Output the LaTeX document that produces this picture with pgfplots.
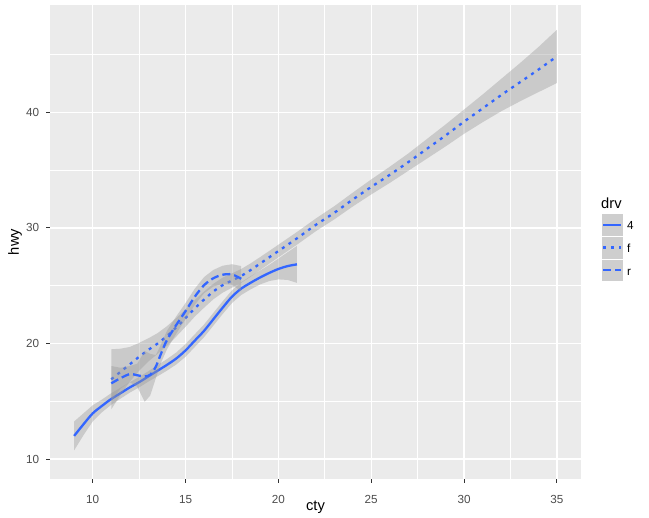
\documentclass[border=0pt]{standalone}
\usepackage{pgfplots}
\pgfplotsset{compat=1.18}
\usepackage{pgfplotstable}
\usepackage{fontspec}
\setmainfont{Liberation Sans}

\definecolor{panel}{HTML}{EBEBEB}
\definecolor{smoothblue}{HTML}{3366FF}
\definecolor{ribbon}{HTML}{999999}
\definecolor{keyfill}{HTML}{F2F2F2}
\definecolor{tickgrey}{HTML}{333333}
\definecolor{labgrey}{HTML}{4D4D4D}

\tikzset{
  lt4/.style={solid},
  ltf/.style={dash pattern=on 3bp off 5bp},
  ltr/.style={dash pattern=on 8bp off 4bp},
}

% loess fits of hwy ~ cty by drv
\pgfplotstableread{
x    y
9    12.0
9.5  13.0
10   13.95
10.5 14.6
11   15.2
11.5 15.7
12   16.2
12.5 16.65
13   17.15
13.5 17.65
14   18.15
14.5 18.7
15   19.4
15.5 20.25
16   21.1
16.5 22.1
17   23.1
17.5 24.05
18   24.75
18.5 25.25
19   25.7
19.5 26.1
20   26.45
20.5 26.7
21   26.85
}\tfour

\pgfplotstableread{
x    y
11   16.9
11.5 17.55
12   18.2
12.5 18.85
13   19.45
13.5 20.0
14   20.65
14.5 21.4
15   22.2
15.5 23.05
16   23.8
16.5 24.5
17   25.05
17.5 25.45
18   25.85
18.5 26.35
19   26.9
19.5 27.45
20   28.0
21   29.1
22   30.25
23   31.3
24   32.45
25   33.55
26   34.6
27   35.7
28   36.85
29   38.0
30   39.2
31   40.35
32   41.5
33   42.6
34   43.7
35   44.85
}\tfront

\pgfplotstableread{
x    y
11   16.55
11.5 17.0
12   17.35
12.4 17.25
12.8 17.15
13.1 17.3
13.4 18.0
13.7 19.2
14   20.3
14.5 21.6
15   22.8
15.5 24.05
16   25.05
16.5 25.65
17   25.95
17.5 25.98
18   25.6
}\trear

% confidence bands: upper edge forward, lower edge back
\pgfplotstableread{
x    y
9    13.25
9.5  13.95
10   14.65
10.5 15.15
11   15.7
11.5 16.17
12   16.65
12.5 17.1
13   17.6
13.5 18.13
14   18.65
14.5 19.22
15   19.95
15.5 20.8
16   21.65
16.5 22.65
17   23.65
17.5 24.6
18   25.3
18.5 25.82
19   26.3
19.5 26.8
20   27.35
20.5 27.9
21   28.45
21   25.25
20.5 25.5
20   25.55
19.5 25.4
19   25.1
18.5 24.68
18   24.2
17.5 23.5
17   22.55
16.5 21.55
16   20.55
15.5 19.7
15   18.85
14.5 18.18
14   17.65
13.5 17.17
13   16.7
12.5 16.2
12   15.75
11.5 15.23
11   14.7
10.5 14.05
10   13.25
9.5  12.05
9    10.75
}\bandfour

\pgfplotstableread{
x    y
11   19.5
11.5 19.55
12   19.7
12.5 20.05
13   20.45
13.5 20.9
14   21.5
14.5 22.2
15   22.95
15.5 23.77
16   24.5
16.5 25.17
17   25.7
17.5 26.07
18   26.45
18.5 26.93
19   27.46
19.5 28.0
20   28.55
21   29.65
22   30.8
23   31.87
24   33.05
25   34.2
26   35.3
27   36.45
28   37.7
29   38.95
30   40.25
31   41.55
32   42.9
33   44.25
34   45.65
35   47.15
35   42.55
34   41.75
33   40.95
32   40.1
31   39.15
30   38.15
29   37.05
28   36.0
27   34.95
26   33.9
25   32.9
24   31.85
23   30.73
22   29.7
21   28.55
20   27.45
19.5 26.9
19   26.34
18.5 25.77
18   25.25
17.5 24.83
17   24.4
16.5 23.83
16   23.1
15.5 22.33
15   21.45
14.5 20.6
14   19.8
13.5 19.1
13   18.45
12.5 17.65
12   16.7
11.5 15.55
11   14.3
}\bandfront

\pgfplotstableread{
x    y
11   18.05
11.5 17.9
12   18.05
12.4 18.25
12.8 19.35
13.1 19.1
13.4 19.0
13.7 20.0
14   21.1
14.5 22.35
15   23.5
15.5 24.75
16   25.75
16.5 26.37
17   26.73
17.5 26.86
18   26.7
18   24.5
17.5 25.1
17   25.17
16.5 24.93
16   24.35
15.5 23.35
15   22.1
14.5 20.85
14   19.5
13.7 18.4
13.4 17.0
13.1 15.5
12.8 14.95
12.4 16.25
12   16.65
11.5 16.1
11   15.05
}\bandrear

\begin{document}
\begin{tikzpicture}
\path[use as bounding box] (-50bp,-39bp) rectangle (599bp,479bp);
\begin{axis}[
  scale only axis, width=531bp, height=474bp,
  xmin=7.7, xmax=36.3, ymin=8.27, ymax=49.3,
  axis background/.style={fill=panel},
  axis line style={draw=none},
  xtick={10,15,20,25,30,35}, ytick={10,20,30,40},
  minor xtick={12.5,17.5,22.5,27.5,32.5}, minor ytick={15,25,35,45},
  grid=both,
  major grid style={white, line width=1.4bp},
  minor grid style={white, line width=0.7bp},
  tick align=outside, xtick pos=left, ytick pos=left,
  major tick length=3.7bp, minor tick length=0pt,
  tick style={tickgrey, line width=1bp},
  /pgf/number format/assume math mode=true,
  ticklabel style={font=\fontsize{11.7bp}{13bp}\selectfont, text=labgrey, inner sep=0pt},
  xticklabel style={anchor=base, yshift=-21bp},
  yticklabel style={anchor=east, xshift=-7bp},
  xlabel={cty}, ylabel={hwy},
  label style={font=\fontsize{14.7bp}{17bp}\selectfont, inner sep=0pt},
  xlabel style={at={(axis description cs:0.5,-0.0675)}, anchor=base},
  ylabel style={at={(axis description cs:-0.0584,0.5)}, anchor=base},
]
% drv = 4
\addplot[fill=ribbon, fill opacity=0.4, draw=none] table[x=x, y=y] {\bandfour} -- cycle;
\addplot[smoothblue, line width=2.3bp, smooth, lt4] table[x=x, y=y] {\tfour};
% drv = f
\addplot[fill=ribbon, fill opacity=0.4, draw=none] table[x=x, y=y] {\bandfront} -- cycle;
\addplot[smoothblue, line width=2.3bp, smooth, ltf] table[x=x, y=y] {\tfront};
% drv = r
\addplot[fill=ribbon, fill opacity=0.4, draw=none] table[x=x, y=y] {\bandrear} -- cycle;
\addplot[smoothblue, line width=2.3bp, smooth, ltr] table[x=x, y=y] {\trear};
\end{axis}
% legend
\node[anchor=base west, inner sep=0pt, font=\fontsize{14.7bp}{17bp}\selectfont] at (551bp,270bp) {drv};
\foreach \yc/\lab/\pat in {254.3/4/lt4, 231.5/f/ltf, 208.7/r/ltr} {
  \fill[keyfill] (551bp,\yc bp-11.4bp) rectangle (573bp,\yc bp+11.4bp);
  \fill[ribbon, fill opacity=0.4] (551bp,\yc bp-11.4bp) rectangle (573bp,\yc bp+11.4bp);
  \draw[white, line width=0.5bp] (551bp,\yc bp-11.4bp) rectangle (573bp,\yc bp+11.4bp);
  \draw[smoothblue, line width=2.3bp, \pat] (553.3bp,\yc bp) -- (571bp,\yc bp);
  \node[anchor=base west, inner sep=0pt, font=\fontsize{11.7bp}{13bp}\selectfont] at (577bp,\yc bp-5bp) {\lab};
}
\end{tikzpicture}
\end{document}
